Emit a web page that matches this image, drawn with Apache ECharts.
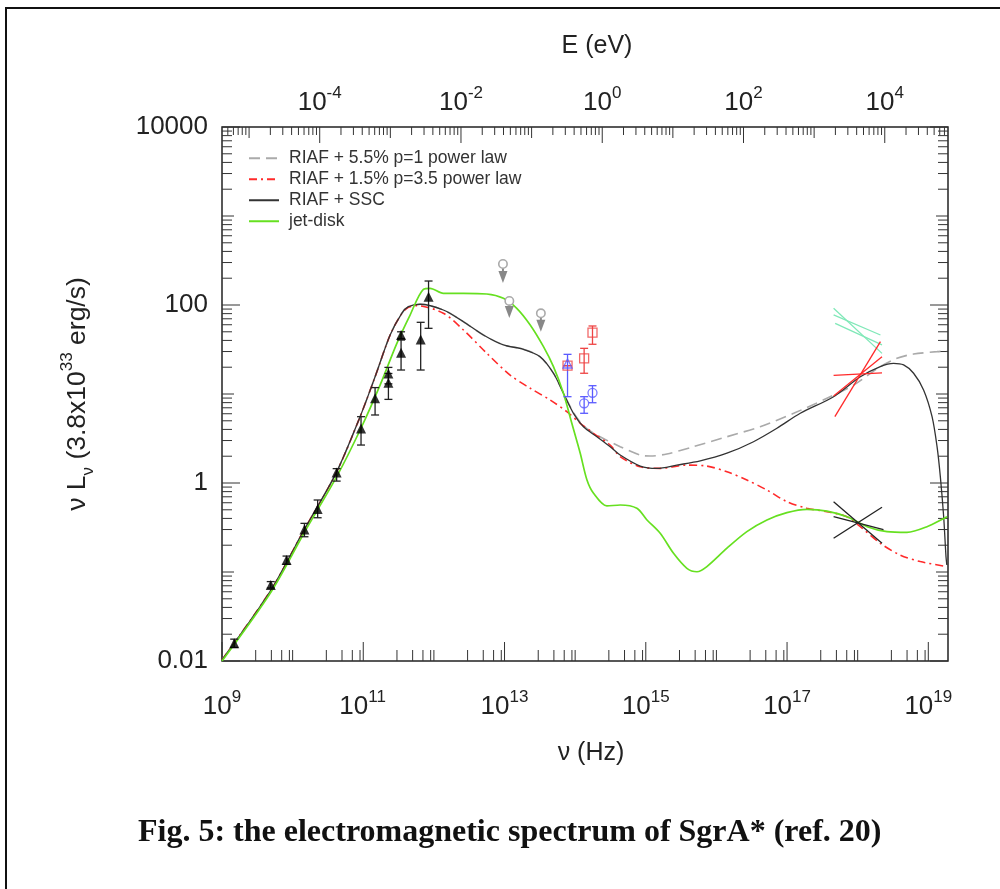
<!DOCTYPE html>
<html><head><meta charset="utf-8">
<script src="https://cdn.jsdelivr.net/npm/echarts@6/dist/echarts.min.js"></script>
<style>html,body{margin:0;padding:0;background:#fff}#c{width:1000px;height:889px}</style>
</head><body><div id="c"></div>
<script>
// ---------- axis ranges / tick labels ----------
const H_EV = 4.135667e-15;            // Planck constant, eV s
const nuMin = 1e9, nuMax = 1.9e19;
const lMin = 0.01, lMax = 10000;
const xLabelExps = [9, 11, 13, 15, 17, 19];
const eLabelExps = [-4, -2, 0, 2, 4];
const yTickValues = [0.01, 1, 100, 10000];
const yTickLabels = ['0.01', '1', '100', '10000'];
const legendNames = ['RIAF + 5.5% p=1 power law', 'RIAF + 1.5% p=3.5 power law', 'RIAF + SSC', 'jet-disk'];

// ---------- model curves [nu (Hz), nuL_nu] ----------
const riafSsc = [[1e9,0.0103],[4.94e9,0.0628],[1.45e10,0.296],[4.12e10,1.29],[9.02e10,5.56],[1.47e11,15.6],[2.4e11,46],[3.51e11,80.7],[4.36e11,95.7],[6.38e11,102],[1.36e12,87.9],[2.62e12,64.9],[5.02e12,46],[9.64e12,35.6],[1.85e13,31.8],[3.19e13,26.2],[4.93e13,17.1],[6.82e13,10.2],[9.46e13,6.07],[1.31e14,4.29],[2.03e14,3.31],[3.13e14,2.56],[4.34e14,2.06],[8.34e14,1.55],[1.44e15,1.46],[2.75e15,1.59],[5.9e15,1.77],[1.41e16,2.16],[3.35e16,2.91],[7.19e16,4.12],[1.54e17,6.07],[4.56e17,9.33],[1.09e18,15.6],[2.09e18,20.3],[3.22e18,22.1],[4.47e18,21.2],[6.19e18,17.1],[8.57e18,11.1],[1.13e19,5.56],[1.33e19,2.56],[1.48e19,1.18],[1.65e19,0.418],[1.78e19,0.149],[1.83e19,0.12]];
const riafPl55 = [[1e9,0.0103],[4.94e9,0.0628],[1.45e10,0.296],[4.12e10,1.29],[9.02e10,5.56],[1.47e11,15.6],[2.4e11,46],[3.51e11,80.7],[4.36e11,95.7],[6.38e11,102],[1.36e12,87.9],[2.62e12,64.9],[5.02e12,46],[9.64e12,35.6],[1.85e13,31.8],[3.19e13,26.2],[4.93e13,17.1],[6.82e13,10.2],[9.46e13,6.2],[1.31e14,4.4],[2.03e14,3.46],[4.34e14,2.56],[8.34e14,2.06],[1.15e15,2.01],[1.99e15,2.12],[4.74e15,2.56],[1.41e16,3.31],[4.17e16,4.29],[1.24e17,6.07],[3.67e17,8.95],[8.75e17,12.6],[2.09e18,20.3],[3.6e18,25.2],[6.19e18,28.1],[1.33e19,29.9],[1.84e19,30.4]];
const riafPl15 = [[1e9,0.0103],[4.94e9,0.0628],[1.45e10,0.296],[4.12e10,1.29],[9.02e10,5.56],[1.47e11,15.6],[2.4e11,46],[3.51e11,80],[4.36e11,94],[5.73e11,98.2],[1.36e12,80.7],[2.62e12,52.4],[5.61e12,28.7],[1.2e13,16.3],[2.31e13,11.6],[4.43e13,8.56],[7.62e13,6.33],[1.18e14,4.69],[1.82e14,3.62],[3.13e14,2.67],[4.34e14,1.98],[8.34e14,1.52],[1.6e15,1.46],[3.82e15,1.59],[7.33e15,1.55],[1.41e16,1.34],[2.7e16,1.08],[5.19e16,0.834],[9.95e16,0.617],[1.91e17,0.52],[3.67e17,0.476],[7.05e17,0.418],[1.09e18,0.323],[2.09e18,0.21],[4.01e18,0.155],[7.71e18,0.131],[1.84e19,0.115]];
const jetDisk = [[1e9,0.01],[4.94e9,0.0596],[1.45e10,0.274],[4.26e10,1.2],[9.31e10,4.15],[1.73e11,12.6],[2.99e11,37.1],[4.6e11,77.2],[7.1e11,150],[8.83e11,154],[1.36e12,135],[2.62e12,135],[5.61e12,133],[9.64e12,119],[1.49e13,91.8],[2.31e13,59.6],[3.56e13,34],[4.93e13,20.3],[6.82e13,10.2],[8.97e13,4.69],[1.18e14,2.16],[1.47e14,1.08],[1.82e14,0.766],[2.81e14,0.552],[4.34e14,0.566],[7.48e14,0.52],[1.04e15,0.384],[1.6e15,0.272],[2.47e15,0.162],[3.82e15,0.11],[5.3e15,0.1007],[7.33e15,0.115],[1.41e16,0.185],[2.7e16,0.284],[5.19e16,0.384],[9.95e16,0.464],[1.91e17,0.506],[3.67e17,0.484],[7.05e17,0.418],[1.36e18,0.323],[2.6e18,0.284],[4.99e18,0.279],[9.57e18,0.323],[1.84e19,0.418]];

// ---------- observations [nu, L, lo, hi] ----------
const radioPts = [[1.49e9,0.0158,0.0142,0.0176],[4.9e9,0.0714,0.066,0.078],[8.2e9,0.136,0.122,0.151],[1.47e10,0.30,0.249,0.352],[2.26e10,0.51,0.407,0.644],[4.2e10,1.31,1.05,1.45],[9.3e10,4.1,2.67,5.56],[1.47e11,8.95,5.81,11.8],[2.27e11,17,13,19.9],[2.27e11,13.4,8.7,17],[3.43e11,46,42,50],[3.43e11,29,18.6,40.4],[6.5e11,41,18.6,63.9],[8.4e11,124,54.7,186]];
// upper limits [nu, L, arrow tip L]
const irLimits = [[9.5e12,289,177],[1.17e13,111,71.4],[3.27e13,80.7,50]];
const nirRed = [[7.8e13,20.8,20.8,20.8],[1.34e14,25.2,17.1,32.6],[1.76e14,48.9,36.2,58.1]];
const nirBlueTri = [[7.8e13,22,9.33,27.9]];
const nirBlueCirc = [[1.34e14,7.85,6.07,9.33],[1.76e14,10.3,7.98,12.4]];
// X-ray bow ties: segments [[nu1,L1],[nu2,L2]]
const xrayFlare1 = [[[4.56e17,91.8],[2.21e18,28.6]],[[4.56e17,77.3],[2.1e18,46]],[[4.8e17,62.2],[2.21e18,35.6]]];
const xrayFlare2 = [[[4.56e17,16.2],[2.21e18,17.3]],[[4.75e17,5.56],[2.1e18,38.7]],[[4.56e17,9.5],[2.21e18,26.2]]];
const xrayQuiet = [[[4.56e17,0.616],[2.21e18,0.21]],[[4.56e17,0.239],[2.21e18,0.533]],[[4.56e17,0.418],[2.32e18,0.30]]];

// ---------- helpers ----------
const FONT = '"Liberation Sans", Arial, Helvetica, sans-serif';
const tickItems = [];
for (let k = 9; k <= 19; k++) {
  const dv = Math.pow(10, k);
  if (dv <= nuMax) tickItems.push([dv, lMin, 0, xLabelExps.includes(k) ? 2 : 1]);
  [3, 5, 7, 9].forEach(m => { const v = m * dv; if (v < nuMax) tickItems.push([v, lMin, 0, 0]); });
}
for (let k = -6; k <= 5; k++) {
  for (let m = 1; m <= 9; m++) {
    const nu = m * Math.pow(10, k) / H_EV;
    if (nu > nuMin && nu < nuMax) tickItems.push([nu, lMax, 1, m === 1 ? (eLabelExps.includes(k) ? 2 : 1) : 0]);
  }
}
for (let k = -2; k <= 4; k++) {
  for (let m = 1; m <= 9; m++) {
    const v = m * Math.pow(10, k);
    if (v > lMin * 0.999 && v < lMax * 1.001) {
      const t = m === 1 ? (k % 2 === 0 ? 2 : 1) : 0;
      tickItems.push([nuMin, v, 2, t]);
      tickItems.push([nuMax, v, 3, t]);
    }
  }
}
const labelItems = [];
xLabelExps.forEach(k => labelItems.push([Math.pow(10, k), lMin, 0, k]));
eLabelExps.forEach(k => labelItems.push([Math.pow(10, k) / H_EV, lMax, 1, k]));

function renderTick(params, api) {
  const p = api.coord([api.value(0), api.value(1)]);
  const side = api.value(2), t = api.value(3);
  const lens = [[11, 11, 19], [8, 11, 16], [10, 12, 18], [10, 12, 18]];
  const L = lens[side][t];
  let x2 = p[0], y2 = p[1];
  if (side === 0) y2 -= L; else if (side === 1) y2 += L; else if (side === 2) x2 += L; else x2 -= L;
  return { type: 'line', shape: { x1: p[0], y1: p[1], x2: x2, y2: y2 }, style: { stroke: '#333', lineWidth: 1 } };
}
function renderLabel(params, api) {
  const p = api.coord([api.value(0), api.value(1)]);
  const side = api.value(2), k = api.value(3);
  const sup = String(k);
  const bs = 26, ss = 17;
  const bw = 2 * 0.556 * bs;
  let sw = 0; for (const ch of sup) sw += (ch === '-' ? 0.333 : 0.556) * ss;
  const left = p[0] - (bw + sw) / 2;
  const cy = side === 0 ? p[1] + 46 : p[1] - 24;
  return { type: 'group', children: [
    { type: 'text', x: left, y: cy, style: { text: '10', fontSize: bs, fontFamily: FONT, fill: '#222', align: 'left', verticalAlign: 'middle' } },
    { type: 'text', x: left + bw, y: cy - 10, style: { text: sup, fontSize: ss, fontFamily: FONT, fill: '#222', align: 'left', verticalAlign: 'middle' } }
  ] };
}
function errRenderer(color, cap) {
  return function (params, api) {
    const x = api.value(0);
    const lo = api.coord([x, api.value(2)]), hi = api.coord([x, api.value(3)]);
    const st = { stroke: color, lineWidth: 1.3 };
    return { type: 'group', children: [
      { type: 'line', shape: { x1: lo[0], y1: lo[1], x2: hi[0], y2: hi[1] }, style: st },
      { type: 'line', shape: { x1: lo[0] - cap, y1: lo[1], x2: lo[0] + cap, y2: lo[1] }, style: st },
      { type: 'line', shape: { x1: hi[0] - cap, y1: hi[1], x2: hi[0] + cap, y2: hi[1] }, style: st }
    ] };
  };
}
function renderLimit(params, api) {
  const c = api.coord([api.value(0), api.value(1)]);
  const t = api.coord([api.value(0), api.value(2)]);
  return { type: 'group', children: [
    { type: 'line', shape: { x1: c[0], y1: c[1] + 4, x2: t[0], y2: t[1] - 9 }, style: { stroke: '#888', lineWidth: 2 } },
    { type: 'polygon', shape: { points: [[t[0] - 4.5, t[1] - 12], [t[0] + 4.5, t[1] - 12], [t[0], t[1]]] }, style: { fill: '#888' } },
    { type: 'circle', shape: { cx: c[0], cy: c[1], r: 4.2 }, style: { fill: '#fff', stroke: '#aaa', lineWidth: 1.6 } }
  ] };
}
function segs(list) { return list.map(s => ({ coords: s })); }

const chart = echarts.init(document.getElementById('c'), null, { renderer: 'canvas' });
chart.setOption({
  animation: false,
  backgroundColor: '#fff',
  title: {
    text: 'Fig. 5: the electromagnetic spectrum of SgrA* (ref. 20)',
    left: 133, top: 812,
    textStyle: { fontFamily: '"Liberation Serif", "Times New Roman", serif', fontWeight: 'bold', fontSize: 32, color: '#111' }
  },
  graphic: [{ type: 'rect', shape: { x: 6, y: 8, width: 1100, height: 1000 }, style: { fill: 'none', stroke: '#111', lineWidth: 2 }, silent: true }],
  legend: {
    data: legendNames, orient: 'vertical', left: 243, top: 143,
    itemWidth: 30, itemHeight: 14, itemGap: 0.5,
    itemStyle: { opacity: 0 },
    textStyle: { fontSize: 17.5, lineHeight: 20.5, color: '#333', fontFamily: FONT, padding: [0, 0, 0, 5] }
  },
  grid: { left: 222, right: 52, top: 127, bottom: 228, show: true, borderColor: '#222', borderWidth: 1.5, backgroundColor: 'transparent' },
  xAxis: [
    { type: 'log', min: nuMin, max: nuMax, axisLine: { show: false }, axisTick: { show: false }, axisLabel: { show: false }, splitLine: { show: false },
      name: 'ν (Hz)', nameLocation: 'middle', nameGap: 80, nameTextStyle: { fontSize: 25, color: '#222', fontFamily: FONT, padding: [0, 0, 0, 12] } },
    { type: 'log', position: 'top', min: nuMin * H_EV, max: nuMax * H_EV, axisLine: { show: false }, axisTick: { show: false }, axisLabel: { show: false }, splitLine: { show: false },
      name: 'E (eV)', nameLocation: 'middle', nameGap: 68, nameTextStyle: { fontSize: 25, color: '#222', fontFamily: FONT, padding: [0, 0, 0, 24] } }
  ],
  yAxis: {
    type: 'log', min: lMin, max: lMax, axisLine: { show: false }, axisTick: { show: false }, splitLine: { show: false },
    axisLabel: { fontSize: 26, color: '#222', fontFamily: FONT, margin: 14,
      formatter: v => { const i = yTickValues.findIndex(t => Math.abs(Math.log10(t) - Math.log10(v)) < 1e-6); return i >= 0 ? yTickLabels[i] : ''; } },
    name: '{a|ν L}{sub|ν}{a| (3.8x10}{sup|33}{a| erg/s)}', nameLocation: 'middle', nameGap: 125,
    nameTextStyle: { rich: {
      a: { fontSize: 26.5, fontFamily: FONT, color: '#222', lineHeight: 38, verticalAlign: 'middle' },
      sub: { fontSize: 17, fontFamily: FONT, color: '#222', lineHeight: 17, verticalAlign: 'bottom' },
      sup: { fontSize: 17, fontFamily: FONT, color: '#222', lineHeight: 17, verticalAlign: 'top' } } }
  },
  series: [
    { type: 'custom', name: 'ticks', renderItem: renderTick, data: tickItems, encode: { x: 0, y: 1 }, silent: true, clip: false, z: 1 },
    { type: 'custom', name: 'tickLabels', renderItem: renderLabel, data: labelItems, encode: { x: 0, y: 1 }, silent: true, clip: false, z: 1 },
    { type: 'line', name: legendNames[0], data: riafPl55, showSymbol: false, symbol: 'none', smooth: 0.3, lineStyle: { color: '#aaaaaa', width: 1.6, type: [11, 6] }, itemStyle: { color: '#aaaaaa' }, z: 3 },
    { type: 'line', name: legendNames[1], data: riafPl15, showSymbol: false, symbol: 'none', smooth: 0.3, lineStyle: { color: '#ff2a2a', width: 1.6, type: [8, 4, 2, 4] }, itemStyle: { color: '#ff2a2a' }, z: 3 },
    { type: 'line', name: legendNames[2], data: riafSsc, showSymbol: false, symbol: 'none', smooth: 0.3, lineStyle: { color: '#333333', width: 1.3 }, itemStyle: { color: '#333333' }, z: 4 },
    { type: 'line', name: legendNames[3], data: jetDisk, showSymbol: false, symbol: 'none', smooth: 0.3, lineStyle: { color: '#66e020', width: 1.7 }, itemStyle: { color: '#66e020' }, z: 4 },
    { type: 'lines', name: 'xray flare 1', coordinateSystem: 'cartesian2d', data: segs(xrayFlare1), lineStyle: { color: '#80e8b8', width: 1.3, opacity: 1 }, z: 5 },
    { type: 'lines', name: 'xray flare 2', coordinateSystem: 'cartesian2d', data: segs(xrayFlare2), lineStyle: { color: '#ff2a2a', width: 1.3, opacity: 1 }, z: 5 },
    { type: 'lines', name: 'xray quiescent', coordinateSystem: 'cartesian2d', data: segs(xrayQuiet), lineStyle: { color: '#222', width: 1.3, opacity: 1 }, z: 5 },
    { type: 'custom', name: 'radio err', renderItem: errRenderer('#222', 4), data: radioPts, encode: { x: 0, y: 1 }, z: 6 },
    { type: 'scatter', name: 'radio', data: radioPts.map(p => [p[0], p[1]]), symbol: 'triangle', symbolSize: 10, itemStyle: { color: '#000' }, z: 7 },
    { type: 'custom', name: 'IR limits', renderItem: renderLimit, data: irLimits, encode: { x: 0, y: 1 }, z: 6 },
    { type: 'custom', name: 'NIR red err', renderItem: errRenderer('#ee4444', 4), data: nirRed, encode: { x: 0, y: 1 }, z: 6 },
    { type: 'custom', name: 'NIR blue err', renderItem: errRenderer('#5a5aff', 4), data: nirBlueTri.concat(nirBlueCirc), encode: { x: 0, y: 1 }, z: 6 },
    { type: 'scatter', name: 'NIR red', data: nirRed.map(p => [p[0], p[1]]), symbol: 'rect', symbolSize: 9, itemStyle: { color: 'rgba(255,255,255,0)', borderColor: '#ee4444', borderWidth: 1.3 }, z: 7 },
    { type: 'scatter', name: 'NIR blue tri', data: nirBlueTri.map(p => [p[0], p[1]]), symbol: 'triangle', symbolSize: 9, itemStyle: { color: 'rgba(255,255,255,0)', borderColor: '#5a5aff', borderWidth: 1.3 }, z: 7 },
    { type: 'scatter', name: 'NIR blue', data: nirBlueCirc.map(p => [p[0], p[1]]), symbol: 'circle', symbolSize: 9, itemStyle: { color: 'rgba(255,255,255,0)', borderColor: '#5a5aff', borderWidth: 1.3 }, z: 7 }
  ]
});
</script></body></html>
